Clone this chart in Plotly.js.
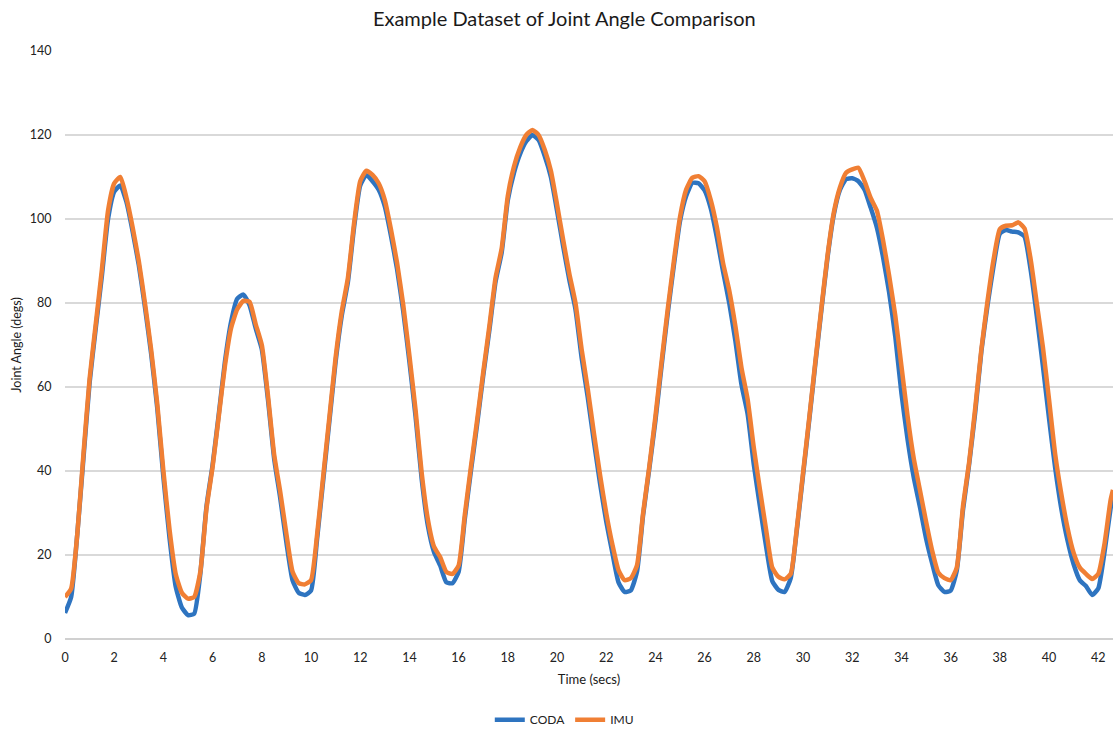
<!DOCTYPE html>
<html>
<head>
<meta charset="utf-8">
<script src="https://cdn.plot.ly/plotly-3.0.1.min.js"></script>
<style>html,body{margin:0;padding:0;background:#fff;}#chart{width:1113px;height:730px;}</style>
</head>
<body>
<div id="chart"></div>
<script>
const timeSecs = [];
for (let i = 0; i <= 170; i++) timeSecs.push(i * 0.25);
timeSecs.push(42.6);

const coda = [
6.2,10,25,43, 61,74,86.5,100, 106.5,108,104,97, 89,79,68,55, 38.5,24,12.5,7.5,
5.7,6.0,15.5,31.5, 41.5,53.5,66,75.5, 81,82,79.5,74, 69,57,43,33.5, 23,14,11,10.5,
11.5,24,38,52, 66,77,85,98, 108,110.5,109,107, 103,96,88,78, 66,53,38,27,
20.7,17.5,13.5,13.3, 16,28.5,40,51, 62.7,73.5,85,92, 104.5,111,115.5,118.5, 120,118.8,115,110,
102,93.5,85.5,78.5, 67,57.5,47,37, 28,20.5,13.5,11.2, 11.6,16,29.5,40.5, 52,65,77.5,89,
99.5,105.5,108.6,108.5, 106.8,102.5,95.5,87.5, 80,71,60.5,53.5, 41.5,31.5,22,13.8, 11.7,11.2,14.5,26,
39,52,65.5,78.5, 91,101,106.9,109.5, 109.7,109,107,102.7, 98,91,82.5,72, 58.5,47.5,38.5,31.5,
24,18,12.8,11.2, 11.5,16.3,30.6,41.5, 54,68.5,79.5,89, 96.5,97.4,97,96.8, 95.8,88,77,65,
52.5,40.7,31,23.5, 17.8,14,12.6,10.5, 12,20.5,31, 34
];

const imu = [
10,12,25,44, 62,75,88,102, 108.5,110,105,98, 90,80,69,56, 40,26,15.5,11,
9.6,10,16,31, 41,53,65,74, 78.5,80.5,80.3,75, 70,58,44,35, 25,16,13.3,13,
14,25,39,53, 67,78,86,99, 109,111.5,110.5,108.5, 104.5,97.5,89.5,79.5, 67.5,54.5,39.5,28.5,
22,19.5,16,15.5, 17.5,29.5,41,52, 63.5,74.5,86,93, 105.5,112.5,117,120, 121.2,120,116.5,111.5,
103.5,95,87,80, 69,59.5,49,39, 30,22.5,16.4,14, 14.5,17.5,30,41, 53,66,78.5,90,
100.5,107,109.8,110.2, 109,104.5,98,89.5, 83,74.5,64.5,57, 45.5,35.5,26,17, 14.8,14.2,15.5,26.5,
39.5,52.5,66,79, 91.5,101.5,107.5,111, 111.8,112.2,109,105, 102,95,86.5,77, 65,53,43,35.5,
28,21,15.8,14.5, 14,17,31.5,42, 55,69,80.5,90.5, 97.6,98.4,98.5,99.2, 97.8,90.5,80,69.5,
57,44,34.5,26.5, 20.5,17,15.5,14.3, 15.5,22.5,33, 35.5
];

const seriesNames = ['CODA', 'IMU'];
const chartTitle = 'Example Dataset of Joint Angle Comparison';
const xTitle = 'Time (secs)';
const yTitle = 'Joint Angle (degs)';

const FONT = 'Lato, "Open Sans", sans-serif';

const traces = [
  {x: timeSecs, y: coda, name: seriesNames[0], type: 'scatter', mode: 'lines',
   line: {color: '#2E74C0', width: 4.5, shape: 'spline', smoothing: 0.5}},
  {x: timeSecs, y: imu, name: seriesNames[1], type: 'scatter', mode: 'lines',
   line: {color: '#F07F34', width: 4.5, shape: 'spline', smoothing: 0.5}}
];

const layout = {
  width: 1113, height: 730,
  margin: {l: 65, r: 0, t: 51, b: 91},
  paper_bgcolor: '#fff', plot_bgcolor: '#fff',
  font: {family: FONT, color: '#333', size: 12},
  title: {text: chartTitle, font: {family: FONT, size: 20, color: '#1a1a1a'},
          xref: 'container', x: 0.507, xanchor: 'center', yref: 'container', y: 0.974, yanchor: 'middle'},
  xaxis: {range: [0, 42.6], dtick: 2, tick0: 0, showgrid: false, zeroline: false,
          showline: false, ticks: 'outside', ticklen: 7, tickcolor: 'rgba(0,0,0,0)',
          tickfont: {family: FONT, size: 12.5, color: '#222'},
          title: {text: xTitle, font: {family: FONT, size: 13, color: '#1a1a1a'}, standoff: 10}},
  yaxis: {range: [0, 140], dtick: 20, tick0: 0, showgrid: true, gridcolor: '#D9D9D9', gridwidth: 1.2,
          zeroline: true, zerolinecolor: '#D0D0D0', zerolinewidth: 1.5, showline: false,
          ticks: 'outside', ticklen: 10, tickcolor: 'rgba(0,0,0,0)',
          tickfont: {family: FONT, size: 12.5, color: '#222'},
          title: {text: yTitle, font: {family: FONT, size: 12.5, color: '#1a1a1a'}, standoff: 5}},
  showlegend: true,
  legend: {orientation: 'h', xref: 'container', yref: 'container', x: 0.507, xanchor: 'center',
           y: 0.014, yanchor: 'middle', font: {family: FONT, size: 12, color: '#222'},
           itemwidth: 30, tracegroupgap: 0}
};

Plotly.newPlot('chart', traces, layout, {displayModeBar: false, staticPlot: true});
</script>
</body>
</html>
